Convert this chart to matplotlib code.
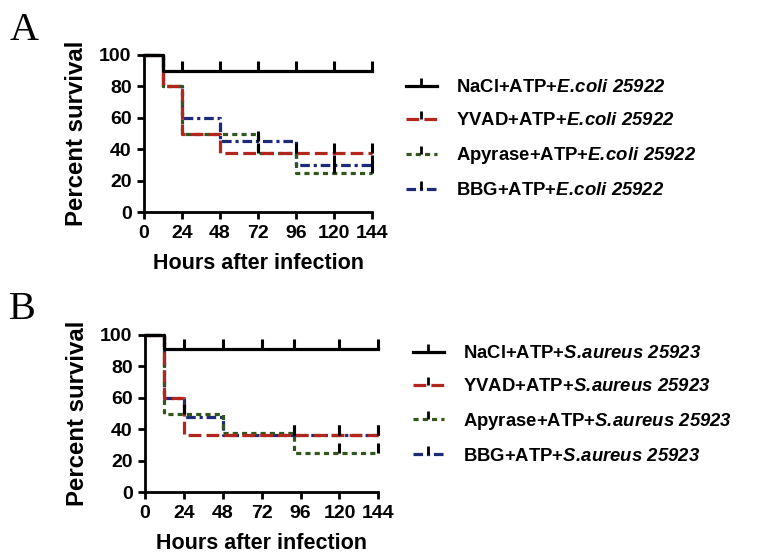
import matplotlib
matplotlib.use('Agg')
import matplotlib.pyplot as plt
from matplotlib.lines import Line2D

plt.rcParams['font.family'] = 'Liberation Sans'
plt.rcParams['font.weight'] = 'bold'
# math part of the legend labels = bold italic species name
plt.rcParams['mathtext.fontset'] = 'custom'
plt.rcParams['mathtext.it'] = 'Liberation Sans:bold:italic'
plt.rcParams['mathtext.rm'] = 'Liberation Sans:bold:italic'

# Panel A: E. coli 25922
a_names = ['NaCl', 'YVAD', 'Apyrase', 'BBG']
a_times = [[0, 12, 144], [0, 12, 24, 48, 144], [0, 12, 24, 72, 96, 144], [0, 12, 24, 48, 96, 144]]
a_surv = [[100, 90, 90], [100, 80, 50, 37.5, 37.5], [100, 80, 50, 37.5, 25, 25], [100, 80, 60, 45, 30, 30]]
a_cens = [[24, 48, 72, 96, 120, 144], [72, 96, 120, 144], [120, 144], [72, 120, 144]]

# Panel B: S. aureus 25923
b_names = ['NaCl', 'YVAD', 'Apyrase', 'BBG']
b_times = [[0, 12, 144], [0, 12, 24, 144], [0, 12, 48, 92, 144], [0, 12, 24, 48, 144]]
b_surv = [[100, 91, 91], [100, 60, 36, 36], [100, 50, 37.5, 25, 25], [100, 60, 48, 36, 36]]
b_cens = [[24, 48, 72, 92, 120, 144], [92, 120, 144], [24, 120, 144], [92, 120, 144]]

colors = ['black', '#b3261e', '#33561f', '#1c2a78']
dashes = [(None, None), (4, 1.6), (1.6, 1.3), (3, 1.2, 1, 1.2)]
xticks = [0, 24, 48, 72, 96, 120, 144]
yticks = [0, 20, 40, 60, 80, 100]


def surv_at(times, surv, t):
    val = surv[0]
    for ti, si in zip(times, surv):
        if ti <= t:
            val = si
    return val


def draw_panel(ax, names, times, surv, cens, strain, leg_anchor, letter, letter_xy):
    handles = []
    for i in range(len(names)):
        ln, = ax.step(times[i], surv[i], where='post', color=colors[i], lw=2.3,
                      clip_on=False, zorder=3 + (3 - i) * 0.1)
        if i > 0:
            ln.set_dashes(dashes[i])
        cy = [surv_at(times[i], surv[i], t) for t in cens[i]]
        ax.plot(cens[i], cy, ls='none', marker=2, ms=7, mew=2.2, color='black',
                clip_on=False, zorder=4)
        h = Line2D([], [], color=colors[i], lw=2.3, marker=2, ms=6, mew=2, mec='black')
        if i > 0:
            h.set_dashes(dashes[i])
        handles.append(h)
    labels = [n + '+ATP+$\\mathrm{' + strain + '}$' for n in names]
    ax.legend(handles, labels, loc='upper left', bbox_to_anchor=leg_anchor,
              bbox_transform=ax.figure.transFigure, frameon=False, fontsize=13.3,
              handlelength=1.7, handletextpad=1.0, labelspacing=0.86, numpoints=1)
    ax.set_xlim(0, 144)
    ax.set_ylim(0, 100)
    ax.set_xticks(xticks)
    ax.set_yticks(yticks)
    ax.tick_params(labelsize=14, width=2, length=5, pad=4, direction='out')
    for lab in ax.get_xticklabels() + ax.get_yticklabels():
        lab.set_fontweight('bold')
    for s in ['top', 'right']:
        ax.spines[s].set_visible(False)
    for s in ['left', 'bottom']:
        ax.spines[s].set_linewidth(2)
    ax.set_xlabel('Hours after infection', fontsize=15.5, fontweight='bold', labelpad=8)
    ax.set_ylabel('Percent survival', fontsize=17.3, fontweight='bold', labelpad=8)
    ax.figure.text(letter_xy[0], letter_xy[1], letter, fontsize=29, family='Liberation Serif',
                   fontweight='normal', ha='left', va='baseline')


fig = plt.figure(figsize=(7.69, 5.6), dpi=100)
ax1 = fig.add_axes([0.1873, 0.6214, 0.2965, 0.2804])
ax2 = fig.add_axes([0.1886, 0.1214, 0.3034, 0.2804])

# "\!" cancels the space mathtext puts after the period
draw_panel(ax1, a_names, a_times, a_surv, a_cens, r'E.\!coli\ 25922',
           (0.506, 0.888), 'A', (0.012, 0.928))
draw_panel(ax2, b_names, b_times, b_surv, b_cens, r'S.\!aureus\ 25923',
           (0.515, 0.4134), 'B', (0.012, 0.43))

fig.savefig('out.png', dpi=100)
